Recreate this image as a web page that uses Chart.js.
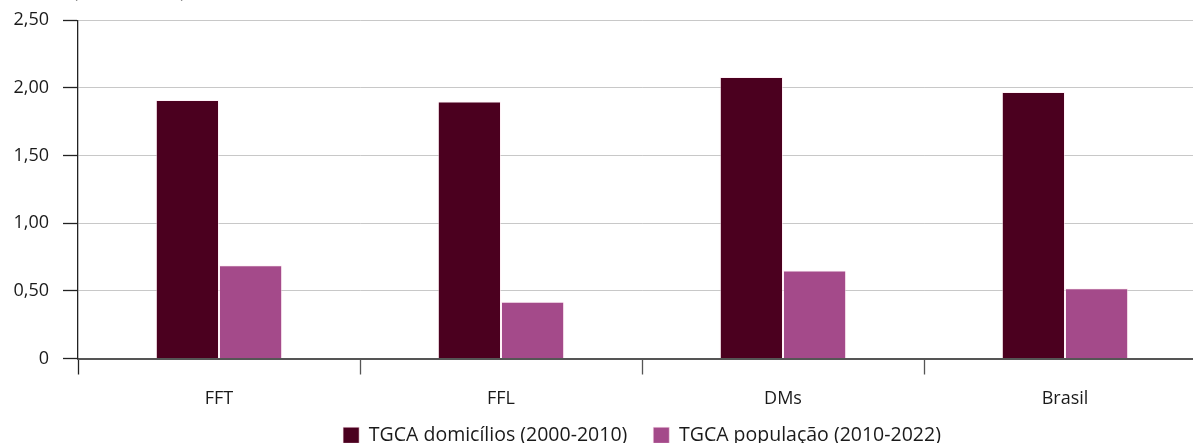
<!DOCTYPE html>
<html>
<head>
<meta charset="utf-8">
<script src="https://cdn.jsdelivr.net/npm/chart.js@4.4.0/dist/chart.umd.min.js"></script>
<style>
  html, body { margin: 0; padding: 0; background: #fff; overflow: hidden; }
  #wrap { position: relative; width: 1210px; height: 443px; }
  #c { display: block; }
  #sub { position: absolute; left: 73px; top: -20px; font: 17px/23px "Open Sans", sans-serif; color: #222; white-space: nowrap; }
</style>
</head>
<body>
<div id="wrap">
  <div id="sub">(Em % ao ano)</div>
  <canvas id="c" width="1210" height="443" style="width:1210px;height:443px"></canvas>
</div>
<script>
const categories = ["FFT", "FFL", "DMs", "Brasil"];
const seriesNames = ["TGCA domicílios (2000-2010)", "TGCA população (2010-2022)"];
const domicilios = [1.91, 1.90, 2.08, 1.97];
const populacao = [0.69, 0.42, 0.65, 0.52];
const yTicks = [0, 0.5, 1, 1.5, 2, 2.5];

const FONT = '"Open Sans", sans-serif';

// nudge the legend block up so it sits right under the category labels
const legendNudge = {
  id: 'legendNudge',
  afterLayout(chart) {
    const lg = chart.legend;
    if (lg) { lg.top -= 9; lg.bottom -= 9; }
  }
};

new Chart(document.getElementById('c'), {
  type: 'bar',
  data: {
    labels: categories,
    datasets: [
      { label: seriesNames[0], data: domicilios, backgroundColor: '#4b001f', borderColor: 'rgba(255,230,240,0.5)', borderWidth: 1,
        categoryPercentage: 0.448, barPercentage: 1.0 },
      { label: seriesNames[1], data: populacao, backgroundColor: '#a44a8a', borderColor: 'rgba(255,230,240,0.5)', borderWidth: 1,
        categoryPercentage: 0.448, barPercentage: 1.0 }
    ]
  },
  options: {
    responsive: false,
    maintainAspectRatio: false,
    animation: false,
    devicePixelRatio: 1,
    layout: { padding: { top: 1, right: 4, left: 0, bottom: -21 } },
    plugins: {
      legend: {
        position: 'bottom',
        fullSize: false,
        labels: { boxWidth: 16, boxHeight: 16, padding: 26, color: '#1a1a1a', font: { family: FONT, size: 19.5 } }
      },
      tooltip: { enabled: false }
    },
    scales: {
      x: {
        afterFit(scale) { scale.height = 50; },
        grid: { offset: true, drawOnChartArea: false, drawTicks: true, tickLength: 16,
                tickColor: ctx => ctx.index === 0 ? '#222' : '#555', tickWidth: 1.3 },
        border: { color: '#555', width: 2 },
        ticks: { color: '#1a1a1a', padding: 15, font: { family: FONT, size: 18, lineHeight: 1.0 } }
      },
      y: {
        min: 0, max: 2.5,
        afterBuildTicks(scale) { scale.ticks = yTicks.map(v => ({ value: v })); },
        afterFit(scale) { scale.width = 78; },
        grid: { color: '#c8c8c8', lineWidth: 1, tickLength: 15, tickColor: '#222', tickWidth: 1.3 },
        border: { color: '#222', width: 1.3 },
        ticks: {
          color: '#1a1a1a', padding: 14, font: { family: FONT, size: 18, lineHeight: 0.7 },
          callback: v => v === 0 ? '0' : v.toFixed(2).replace('.', ',')
        }
      }
    }
  },
  plugins: [legendNudge]
});
</script>
</body>
</html>
